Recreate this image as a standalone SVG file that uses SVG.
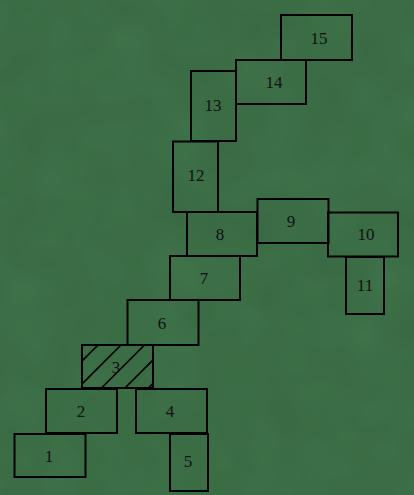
<svg xmlns="http://www.w3.org/2000/svg" width="414" height="495" viewBox="0 0 414 495">
<defs>
<style>
.box{fill:none;stroke:#000;stroke-width:2}
.hatch{stroke:#000;stroke-width:1.6}
text{font-family:"Liberation Serif","Times New Roman",serif;font-size:17px;fill:#111;text-anchor:middle}
</style>
<clipPath id="c3"><rect x="82" y="345" width="71" height="43"/></clipPath>
<filter id="tex" x="0" y="0" width="100%" height="100%">
<feTurbulence type="fractalNoise" baseFrequency="0.02" numOctaves="2" seed="3"/>
<feColorMatrix type="matrix" values="0 0 0 0 0  0 0 0 0 0  0 0 0 0 0  0 0 0 0.35 0"/>
</filter>
</defs>
<rect width="414" height="495" fill="#3f744a"/>
<rect width="414" height="495" filter="url(#tex)" opacity="0.3"/>
<g id="connectors"></g>
<g id="n1"><rect class="box" x="14.5" y="434" width="71" height="43"/><text x="49" y="462">1</text></g>
<g id="n2"><rect class="box" x="46" y="389" width="71" height="44"/><text x="81" y="417">2</text></g>
<g id="n3"><g clip-path="url(#c3)">
<line class="hatch" x1="443" y1="0" x2="43" y2="400"/>
<line class="hatch" x1="466" y1="0" x2="66" y2="400"/>
<line class="hatch" x1="489.5" y1="0" x2="89.5" y2="400"/>
<line class="hatch" x1="513" y1="0" x2="113" y2="400"/>
<line class="hatch" x1="536.5" y1="0" x2="136.5" y2="400"/></g>
<rect class="box" x="82" y="345" width="71" height="43"/><text x="116" y="373">3</text></g>
<g id="n4"><rect class="box" x="136" y="389" width="71" height="44"/><text x="170" y="417">4</text></g>
<g id="n5"><rect class="box" x="170" y="434" width="38" height="57"/><text x="188" y="467">5</text></g>
<g id="n6"><rect class="box" x="127.5" y="300" width="71" height="45"/><text x="162" y="329">6</text></g>
<g id="n7"><rect class="box" x="170" y="256" width="70" height="44"/><text x="204" y="284">7</text></g>
<g id="n8"><rect class="box" x="187" y="212" width="70" height="44"/><text x="220" y="240">8</text></g>
<g id="n9"><rect class="box" x="257.5" y="199" width="71" height="44"/><text x="291" y="227">9</text></g>
<g id="n10"><rect class="box" x="328" y="212.5" width="70" height="44"/><text x="366" y="240">10</text></g>
<g id="n11"><rect class="box" x="346" y="257" width="38" height="57"/><text x="365" y="291">11</text></g>
<g id="n12"><rect class="box" x="173" y="141.5" width="45" height="70.5"/><text x="196" y="181">12</text></g>
<g id="n13"><rect class="box" x="191" y="71" width="45" height="70"/><text x="213" y="111">13</text></g>
<g id="n14"><rect class="box" x="236" y="60" width="70" height="44"/><text x="274" y="88">14</text></g>
<g id="n15"><rect class="box" x="281" y="15" width="71" height="45"/><text x="319" y="44">15</text></g>
</svg>
